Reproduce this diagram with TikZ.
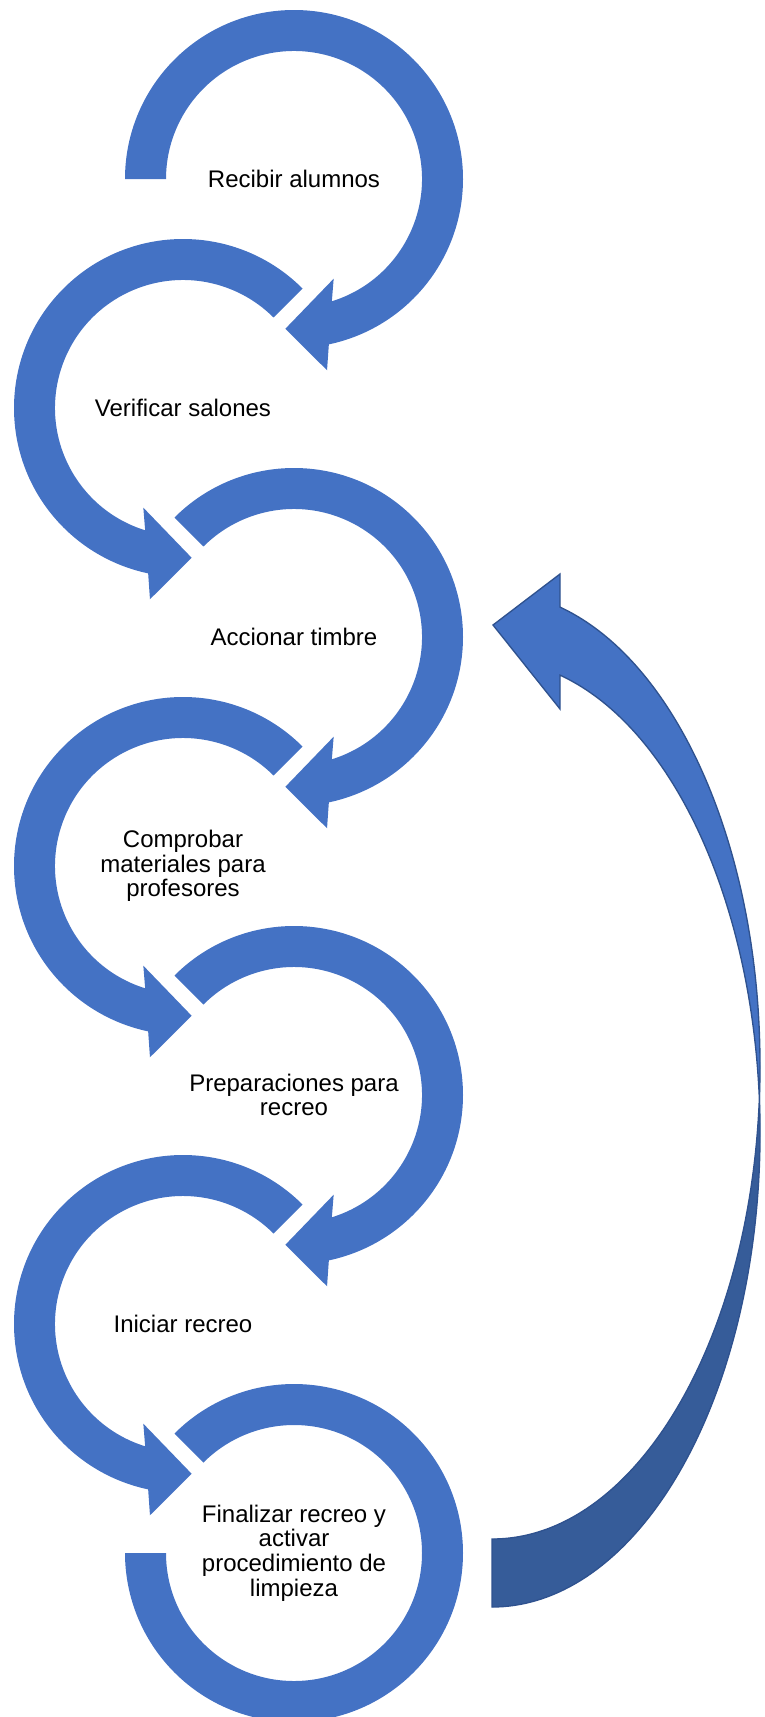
\documentclass[tikz,border=0pt]{standalone}
\usepackage{fontspec}
\setmainfont{Liberation Sans}
\usepackage{xcolor}
\usepackage{tikz}
\usetikzlibrary{calc}
\definecolor{ringblue}{HTML}{4472C4}
\definecolor{backblue}{HTML}{365C99}
\definecolor{edgeblue}{HTML}{2F528F}
\newcommand{\StepNode}[3]{%
  \node[steptext] (#1) at (#2) {#3};
}
% ring turning clockwise, head at the bottom
\newcommand{\RingRight}[2]{%
  \fill[ringblue] (#1.center) ++(#2:169) arc[start angle=#2, end angle=-78.1, radius=169]
    -- ($(#1.center)+(-80.2:194.1)$) -- ($(#1.center)+(-93.3:150)$)
    -- ($(#1.center)+(-68.3:107.3)$) -- ($(#1.center)+(-72.8:128)$)
    arc[start angle=-72.8, end angle=#2, radius=128] -- cycle;
}
% ring turning the other way
\newcommand{\RingLeft}[1]{%
  \fill[ringblue] (#1.center) ++(45:169) arc[start angle=45, end angle=258.1, radius=169]
    -- ($(#1.center)+(260.2:194.1)$) -- ($(#1.center)+(273.3:150)$)
    -- ($(#1.center)+(248.3:107.3)$) -- ($(#1.center)+(252.8:128)$)
    arc[start angle=252.8, end angle=45, radius=128] -- cycle;
}
\newcommand{\ReturnPath}{%
  ($(loopA)+(-90:268 and 473.7)$) arc[start angle=-90, end angle=75.3, x radius=268, y radius=473.7]
    -- (headtop) -- (headtip) -- (headbot)
    -- ($(loopB)+(75.3:268 and 473.7)$) arc[start angle=75.3, end angle=-90, x radius=268, y radius=473.7]
    -- cycle
}

\begin{document}
\begin{tikzpicture}[x=0.75pt, y=0.75pt,
  steptext/.style={align=center, inner sep=0pt, text=black,
    font=\fontsize{18}{18.4}\selectfont}]
  \useasboundingbox (0,0) rectangle (764,-1717);

  \StepNode{recibir}{294,-179}{Recibir alumnos}
  \StepNode{verificar}{183,-408}{Verificar salones}
  \StepNode{accionar}{294,-637}{Accionar timbre}
  \StepNode{comprobar}{183,-866}{Comprobar\\materiales para\\profesores}
  \StepNode{preparar}{294,-1095}{Preparaciones para\\recreo}
  \StepNode{iniciar}{183,-1324}{Iniciar recreo}
  \StepNode{finalizar}{294,-1553}{Finalizar recreo y\\activar\\procedimiento de\\limpieza}

  \RingRight{recibir}{180}
  \RingLeft{verificar}
  \RingRight{accionar}{135}
  \RingLeft{comprobar}
  \RingRight{preparar}{135}
  \RingLeft{iniciar}
  \fill[ringblue] (finalizar.center) ++(135:169) arc[start angle=135, end angle=-180, radius=169]
    -- ++(41,0) arc[start angle=-180, end angle=135, radius=128] -- cycle;

  % curved arrow back to the timbre step
  \coordinate (loopA) at (492,-1065.3);
  \coordinate (loopB) at (492,-1133.3);
  \coordinate (headtop) at (560,-574);
  \coordinate (headtip) at (493,-625);
  \coordinate (headbot) at (560,-709);
  \fill[ringblue] \ReturnPath;
  \fill[backblue] ($(loopA)+(-90:268 and 473.7)$) arc[start angle=-90, end angle=0, x radius=268, y radius=473.7]
    -- ($(loopB)+(0:268 and 473.7)$) arc[start angle=0, end angle=-90, x radius=268, y radius=473.7] -- cycle;
  \draw[edgeblue, line width=1pt, line join=miter] \ReturnPath;
\end{tikzpicture}
\end{document}
